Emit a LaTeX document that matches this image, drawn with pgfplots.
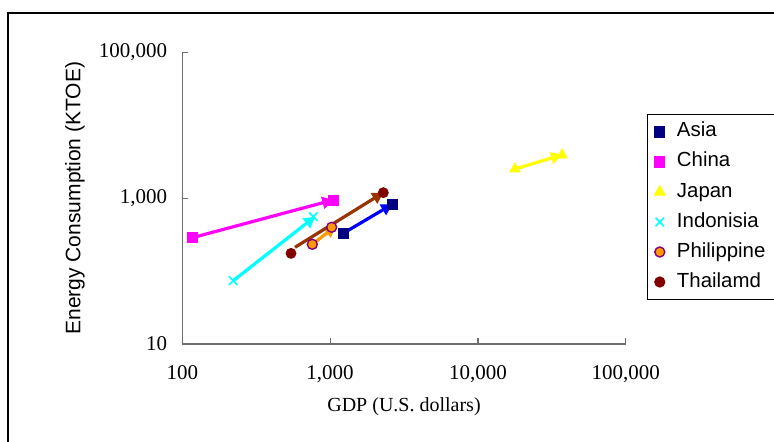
\documentclass[border=0pt]{standalone}
\usepackage{pgfplots}
\pgfplotsset{compat=1.18}
\usepackage{fontspec}
\setmainfont{Liberation Serif}
\newfontfamily\arial{Liberation Sans}
\usetikzlibrary{arrows.meta}
\definecolor{navyA}{RGB}{0,0,128}
\definecolor{blueA}{RGB}{0,0,255}
\definecolor{magA}{RGB}{255,0,255}
\definecolor{yelA}{RGB}{255,255,0}
\definecolor{cyaA}{RGB}{0,255,255}
\definecolor{oraA}{RGB}{255,153,0}
\definecolor{purA}{RGB}{128,0,128}
\definecolor{dredA}{RGB}{128,0,0}
\definecolor{brnA}{RGB}{153,51,0}
\definecolor{axgray}{RGB}{110,110,110}
\begin{document}
\begin{tikzpicture}[x=1pt,y=1pt]
\useasboundingbox (0,0) rectangle (387,-220.5);
\draw[line width=1pt] (4,-6.5) rectangle (430,-270);
\begin{axis}[
  at={(91.15pt,-172pt)}, anchor=south west,
  scale only axis, width=221.7pt, height=145.85pt,
  xmode=log, ymode=log,
  xmin=100, xmax=100000, ymin=10, ymax=100000,
  axis lines=left, axis line style={-, axgray, line width=0.7pt},
  xtick={100,1000,10000,100000}, xticklabels={100,{1,000},{10,000},{100,000}},
  ytick={10,1000,100000}, yticklabels={10,{1,000},{100,000}},
  xminorticks=false, yminorticks=false,
  tick align=inside, major tick length=3pt,
  tick style={axgray, line width=0.6pt},
  ticklabel style={font=\fontsize{10.5}{12}\selectfont},
  xticklabel style={yshift=-7pt},
  yticklabel style={xshift=-4pt},
  xlabel={GDP (U.S. dollars)},
  xlabel style={at={(axis description cs:0.5,-0.215)}, anchor=center, font=\fontsize{10}{12}\selectfont},
  ylabel={Energy Consumption (KTOE)},
  ylabel style={at={(axis description cs:-0.242,0.5)}, anchor=center, font=\arial\fontsize{10.5}{12}\selectfont},
  legend cell align=left,
  legend image code/.code={\draw[mark repeat=2,mark phase=2] plot coordinates {(0pt,0pt) (4pt,0pt) (8pt,0pt)};},
  legend style={at={(axis description cs:1.048,0.7885)}, anchor=north west, draw=black, line width=0.6pt,
    font=\arial\fontsize{10.2}{12}\selectfont, inner xsep=3.5pt, inner ysep=1.2pt, row sep=0pt,
    nodes={text height=7.5pt, text depth=2.5pt, inner ysep=2.5pt, inner xsep=1.5pt},
    /tikz/every even column/.append style={column sep=1.5pt},
    /tikz/every odd column/.append style={column sep=4.5pt}},
]
\addplot[only marks, mark=square*, mark size=2.5pt, color=navyA] coordinates {(1228,330) (2635,824)};
\addlegendentry{Asia}
\addplot[only marks, mark=square*, mark size=2.5pt, color=magA] coordinates {(117,287) (1051,945)};
\addlegendentry{China}
\addplot[only marks, mark=triangle*, mark size=3pt, color=yelA] coordinates {(17820,2515) (37070,3914)};
\addlegendentry{Japan}
\addplot[only marks, mark=x, mark size=3pt, line width=0.8pt, color=cyaA] coordinates {(221,73.8) (770,557)};
\addlegendentry{Indonisia}
\addplot[only marks, mark=*, mark size=2.5pt, draw=purA, fill=oraA, line width=0.7pt] coordinates {(758,233) (1025,399)};
\addlegendentry{Philippine}
\addplot[only marks, mark=*, mark size=2.5pt, color=dredA] coordinates {(544,175) (2291,1190)};
\addlegendentry{Thailamd}
% arrows
\addplot[forget plot, -{Triangle[length=5.5pt,width=6pt]}, line width=1.6pt, color=blueA] coordinates {(1228,330) (2635,824)};
\addplot[forget plot, -{Triangle[length=5.5pt,width=6pt]}, line width=1.6pt, color=magA] coordinates {(117,287) (1051,945)};
\addplot[forget plot, -{Triangle[length=5.5pt,width=6pt]}, line width=1.6pt, color=yelA] coordinates {(17820,2515) (37070,3914)};
\addplot[forget plot, -{Triangle[length=5.5pt,width=6pt]}, line width=1.6pt, color=cyaA] coordinates {(221,73.8) (790,557)};
\addplot[forget plot, -{Triangle[length=5.5pt,width=6pt]}, line width=1.6pt, color=oraA] coordinates {(758,233) (1090,412)};
\addplot[forget plot, -{Triangle[length=5.5pt,width=6pt]}, line width=1.6pt, color=brnA] coordinates {(579,212) (2291,1190)};
\end{axis}
\end{tikzpicture}
\end{document}
